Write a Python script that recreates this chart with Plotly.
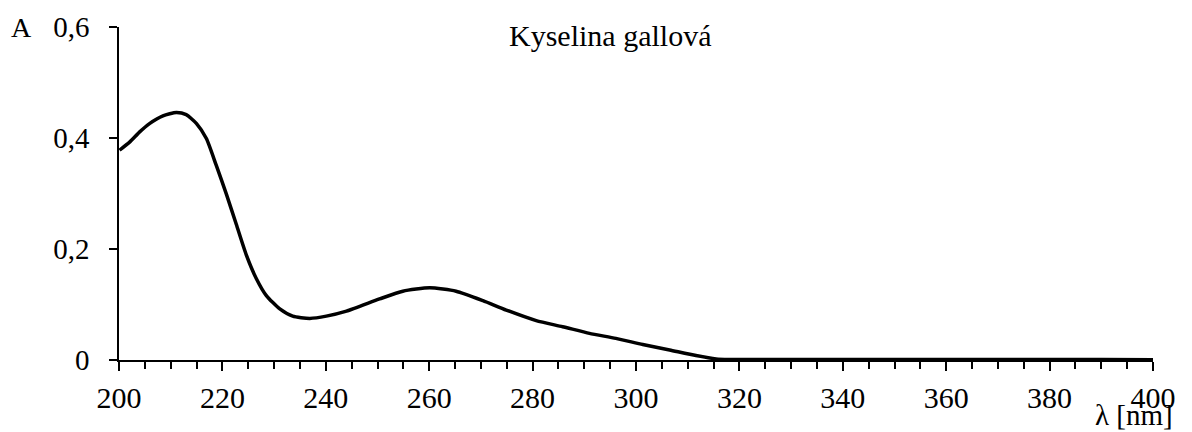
import plotly.graph_objects as go

wavelength = [200.1, 202.1, 204.0, 205.9, 208.5, 211.1, 213.0, 215.0, 216.9, 218.8,
              220.8, 222.7, 224.6, 226.6, 228.5, 231.1, 233.6, 236.9, 240.1, 244.0,
              250.4, 254.9, 260.1, 265.2, 270.4, 274.9, 280.7, 285.8, 291.0, 296.1,
              301.3, 306.5, 311.6, 315.5, 318.0, 330.0, 350.0, 370.0, 390.0, 400.0]
absorbance = [0.378, 0.393, 0.411, 0.426, 0.440, 0.446, 0.442, 0.426, 0.399, 0.351,
              0.298, 0.244, 0.190, 0.146, 0.116, 0.092, 0.079, 0.075, 0.079, 0.088,
              0.110, 0.124, 0.130, 0.124, 0.107, 0.090, 0.071, 0.060, 0.048, 0.039,
              0.028, 0.018, 0.008, 0.002, 0.001, 0.001, 0.001, 0.001, 0.001, 0.0005]

x_tickvals = [200, 220, 240, 260, 280, 300, 320, 340, 360, 380, 400]
x_ticktext = ["200", "220", "240", "260", "280", "300", "320", "340", "360", "380", "400"]
y_tickvals = [0, 0.2, 0.4, 0.6]
y_ticktext = ["0", "0,2", "0,4", "0,6"]

title_text = "Kyselina gallová"
y_label = "A"
x_label = "λ [nm]"

FONT = "Liberation Serif"

fig = go.Figure()
fig.add_trace(go.Scatter(x=wavelength, y=absorbance, mode="lines",
                         line=dict(color="black", width=3.5, shape="spline", smoothing=0.6),
                         hoverinfo="skip", showlegend=False))

fig.update_layout(
    width=1192, height=432,
    margin=dict(l=119, r=39, t=27, b=72),
    paper_bgcolor="white", plot_bgcolor="white",
    font=dict(family=FONT, color="black"),
    separators=", ",
    showlegend=False,
)
fig.update_xaxes(
    range=[200, 400], showgrid=False, zeroline=False,
    showline=True, linecolor="black", linewidth=1.5,
    tickmode="array", tickvals=x_tickvals, ticktext=x_ticktext,
    ticks="outside", ticklen=9, tickwidth=1.5, tickcolor="black",
    tickfont=dict(family=FONT, size=30, color="black"),
    ticklabelstandoff=1,
    minor=dict(dtick=5, tick0=200, ticks="outside", ticklen=7, tickwidth=1.5, tickcolor="black", showgrid=False),
)
fig.update_yaxes(
    range=[0, 0.6], showgrid=False, zeroline=False,
    showline=True, linecolor="black", linewidth=1.5,
    tickmode="array", tickvals=y_tickvals, ticktext=y_ticktext,
    ticks="outside", ticklen=8, tickwidth=1.5, tickcolor="black",
    tickfont=dict(family=FONT, size=29, color="black"),
    ticklabelstandoff=14,
)

fig.add_annotation(text=title_text, xref="paper", yref="paper", x=0.475, y=0.975,
                   xanchor="center", yanchor="middle", showarrow=False,
                   font=dict(family=FONT, size=30, color="black"))
fig.add_annotation(text=y_label, xref="paper", yref="paper", x=-0.106, y=1.0,
                   xanchor="left", yanchor="middle", showarrow=False,
                   font=dict(family=FONT, size=28, color="black"))
fig.add_annotation(text=x_label, xref="paper", yref="paper", x=1.021, y=-0.165,
                   xanchor="right", yanchor="middle", showarrow=False,
                   font=dict(family=FONT, size=29, color="black"))

fig.write_html("out.html")
